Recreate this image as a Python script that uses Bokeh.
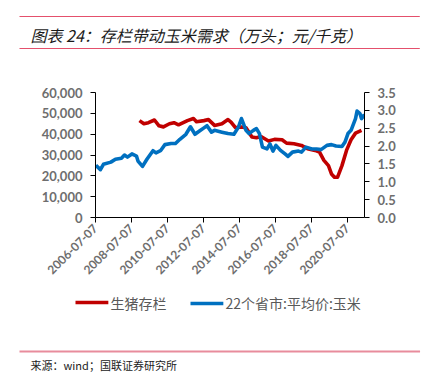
import calendar
from datetime import datetime
import math

from bokeh.plotting import figure
from bokeh.models import (Range1d, LinearAxis, FixedTicker, NumeralTickFormatter,
                          DatetimeTickFormatter, Label)
from bokeh.embed import file_html
from bokeh.resources import INLINE

# ---------------- data ----------------
hog_dates = ["2008-12", "2009-03", "2009-06", "2009-10", "2010-01", "2010-04", "2010-08",
             "2010-11", "2011-02", "2011-08", "2011-12", "2012-02", "2012-07", "2012-10",
             "2013-02", "2013-07", "2013-11", "2014-01", "2014-04", "2014-08", "2014-11",
             "2015-03", "2015-06", "2015-09", "2016-02", "2016-06", "2016-11", "2017-02",
             "2017-07", "2017-12", "2018-04", "2018-09", "2018-12", "2019-03", "2019-06",
             "2019-08", "2019-10", "2019-12", "2020-03", "2020-06", "2020-09", "2020-12",
             "2021-04"]
hog_values = [46500, 45000, 45500, 46800, 44000, 43500, 45000,
              45500, 44500, 46500, 47500, 46000, 46500, 47000,
              44200, 45000, 47000, 45800, 43100, 43400, 43100,
              38600, 38300, 38900, 36700, 37500, 37300, 35700,
              35400, 34600, 33000, 32200, 31400, 27400, 24900,
              20900, 19300, 19300, 24900, 32200, 37300, 40500,
              41800]

corn_dates = ["2006-07", "2006-10", "2006-12", "2007-05", "2007-08", "2007-12", "2008-02",
              "2008-04", "2008-07", "2008-10", "2008-11", "2009-02", "2009-05", "2009-09",
              "2009-11", "2010-02", "2010-05", "2010-09", "2010-12", "2011-03", "2011-07",
              "2011-10", "2012-01", "2012-04", "2012-07", "2012-09", "2012-12", "2013-02",
              "2013-07", "2013-11", "2014-03", "2014-06", "2014-08", "2014-11", "2015-01",
              "2015-04", "2015-06", "2015-08", "2015-10", "2016-01", "2016-03", "2016-05",
              "2016-07", "2016-10", "2017-01", "2017-03", "2017-06", "2017-10", "2017-12",
              "2018-03", "2018-07", "2018-10", "2019-01", "2019-05", "2019-08", "2019-11",
              "2020-03", "2020-05", "2020-07", "2020-09", "2020-12", "2021-01", "2021-03",
              "2021-04", "2021-06"]
corn_prices = [1.46, 1.34, 1.49, 1.55, 1.63, 1.66, 1.75,
               1.69, 1.78, 1.72, 1.58, 1.43, 1.63, 1.87,
               1.81, 1.87, 2.04, 2.07, 2.07, 2.19, 2.33,
               2.54, 2.33, 2.42, 2.51, 2.57, 2.39, 2.44,
               2.39, 2.35, 2.33, 2.53, 2.77, 2.44, 2.35,
               2.44, 2.49, 2.35, 1.97, 1.92, 2.06, 1.86,
               2.02, 1.88, 1.78, 1.71, 1.83, 1.86, 1.83,
               1.97, 1.92, 1.92, 1.90, 2.02, 2.04, 2.00,
               1.99, 2.11, 2.35, 2.44, 2.77, 2.98, 2.91,
               2.77, 2.88]

x_tick_labels = ["2006-07-07", "2008-07-07", "2010-07-07", "2012-07-07",
                 "2014-07-07", "2016-07-07", "2018-07-07", "2020-07-07"]
left_ticks = [0, 10000, 20000, 30000, 40000, 50000, 60000]
right_ticks = [0.0, 0.5, 1.0, 1.5, 2.0, 2.5, 3.0, 3.5]

series_names = ["生猪存栏", "22个省市:平均价:玉米"]
title_text = "图表 24：存栏带动玉米需求（万头；元/千克）"
source_text = "来源：wind；国联证券研究所"


def to_dt(s):
    parts = [int(v) for v in s.split("-")]
    if len(parts) == 2:
        parts.append(15)
    return datetime(*parts)


def to_ms(d):
    return calendar.timegm(d.timetuple()) * 1000.0


hog_x = [to_dt(s) for s in hog_dates]
corn_x = [to_dt(s) for s in corn_dates]
tick_ms = [to_ms(to_dt(s)) for s in x_tick_labels]

RED = "#C00000"
BLUE = "#0070C0"
GRAY = "#6E6E6E"
PINK = "#E4506C"
PINK2 = "#E88C9C"

W, H = 428, 377
FL, FR, FT, FB = 95, 364, 92, 217   # plot frame edges in page pixels

p = figure(width=W, height=H, x_axis_type="datetime", title=None,
           x_range=Range1d(to_dt("2006-07-07"), to_dt("2021-06-15")),
           y_range=Range1d(0, 60000),
           min_border_left=FL, min_border_right=W - FR, min_border_top=FT,
           min_border_bottom=H - FB,
           output_backend="svg", toolbar_location=None)
p.extra_y_ranges = {"price": Range1d(0, 3.5)}
p.outline_line_color = None
p.grid.visible = False
p.background_fill_color = "white"
p.border_fill_color = "white"

r_hog = p.line(hog_x, hog_values, line_color=RED, line_width=3.6, line_join="round")
r_corn = p.line(corn_x, corn_prices, line_color=BLUE, line_width=3.6, line_join="round",
                y_range_name="price")


def style_axis(ax):
    ax.axis_line_color = "#000000"
    ax.axis_line_width = 1
    ax.major_tick_line_color = "#000000"
    ax.major_tick_out = 5
    ax.major_tick_in = 0
    ax.minor_tick_line_color = None
    ax.major_label_text_font = "Lato"
    ax.major_label_text_font_style = "bold"
    ax.major_label_text_color = GRAY
    ax.major_label_text_font_size = "13px"


xa = p.xaxis[0]
style_axis(xa)
xa.ticker = FixedTicker(ticks=tick_ms)
fmt = "%Y-%m-%d"
xa.formatter = DatetimeTickFormatter(milliseconds=fmt, seconds=fmt, minsec=fmt, minutes=fmt,
                                     hourmin=fmt, hours=fmt, days=fmt, months=fmt, years=fmt)
xa.major_label_orientation = math.pi / 4
xa.major_label_text_font_size = "12px"
xa.major_label_standoff = 4

ya = p.yaxis[0]
style_axis(ya)
ya.ticker = FixedTicker(ticks=left_ticks)
ya.formatter = NumeralTickFormatter(format="0,0")
ya.major_label_standoff = 8

ra = LinearAxis(y_range_name="price")
style_axis(ra)
ra.ticker = FixedTicker(ticks=right_ticks)
ra.formatter = NumeralTickFormatter(format="0.0")
ra.major_label_standoff = 8
p.add_layout(ra, "right")

# Decorations live in the "above" side panels so they are not clipped to the plot
# frame.  Each label's panel is stacked on the previous one, so the stacked height
# (est. text-box height) is accumulated and compensated.
_stack = [0.0]


def deco_label(xpage, ypage, est_h, **kw):
    base = FT - _stack[0]
    p.add_layout(Label(x=xpage - FL, y=base - ypage, x_units="screen", y_units="screen",
                       text_baseline="middle", **kw), "above")
    _stack[0] += est_h


def rule(xpage, ypage, length, color, thickness, est_h):
    deco_label(xpage, ypage, est_h, text=" ", text_font_size=f"{thickness}px",
               text_color=color, background_fill_color=color, background_fill_alpha=1,
               padding=dict(left=0, right=length, top=0, bottom=0))


rule(19, 16, 400, PINK, 1, 1)
rule(19, 48, 400, PINK, 1, 1)
rule(19, 351, 400, PINK2, 2, 2)
# legend swatches
rule(75, 302, 32, RED, 3, 4)
rule(190, 302, 32, BLUE, 3, 4)
deco_label(30, 32, 23, text=title_text, text_font="Noto Sans CJK SC",
           text_font_style="italic", text_font_size="16px", text_color="#1a1a1a")
# legend labels
deco_label(110, 301, 20, text=series_names[0], text_font="Noto Sans CJK SC",
           text_font_size="14px", text_color="#595959")
deco_label(225, 301, 20, text=series_names[1], text_font="Noto Sans CJK SC",
           text_font_size="14px", text_color="#595959")
deco_label(30, 363, 16, text=source_text, text_font="Noto Sans CJK SC",
           text_font_size="11px", text_color="#222222")

open("out.html", "w").write(file_html(p, INLINE))
